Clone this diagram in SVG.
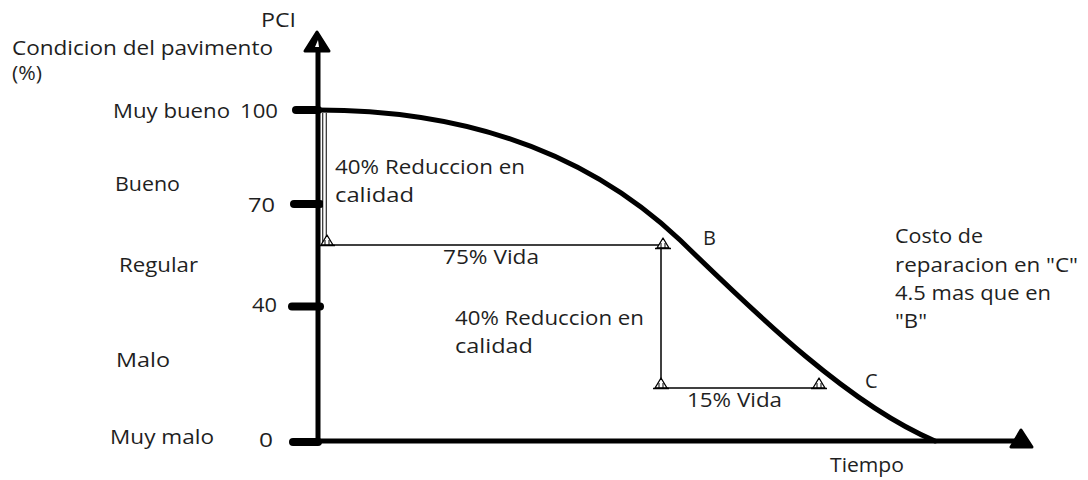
<svg xmlns="http://www.w3.org/2000/svg" xmlns:xlink="http://www.w3.org/1999/xlink" width="1088" height="480" viewBox="0 0 1088 480">
<style>
text{font-family:"Open Sans","Liberation Sans",sans-serif;font-size:20px;fill:#1f1f1f}
.axis{stroke:#000;stroke-width:5;fill:none}
.tick{stroke:#000;stroke-width:8;stroke-linecap:round}
.thin{stroke:#000;stroke-width:1.5;fill:none}
.curve{stroke:#000;stroke-width:5;fill:none;stroke-linecap:round}
.head{fill:#000;stroke:#000;stroke-width:3;stroke-linejoin:round}
</style>
<defs>
<g id="pin">
<polygon points="0,-10 -6,0 6,0" fill="#fff" stroke="#000" stroke-width="1.3" stroke-linejoin="round"/>
<line x1="-8" y1="0.5" x2="8" y2="0.5" stroke="#000" stroke-width="1.5"/>
<line x1="-2" y1="-5" x2="-2" y2="0" stroke="#000" stroke-width="1"/>
<line x1="2" y1="-5" x2="2" y2="0" stroke="#000" stroke-width="1"/>
</g>
</defs>
<rect width="1088" height="480" fill="#fff"/>

<g id="axes">
<line class="axis" x1="318" y1="443" x2="318" y2="48"/>
<polygon class="head" points="317,32 305,51 329,51"/>
<polygon points="318,40 315,47 319,47" fill="#fff"/>
<line class="axis" x1="293" y1="441" x2="1020" y2="441"/>
<polygon class="head" points="1021,430 1011,447 1032,447"/>
<line class="tick" x1="296" y1="110" x2="318" y2="110"/>
<line class="tick" x1="294" y1="204" x2="320" y2="204"/>
<line class="tick" x1="292" y1="306.5" x2="320" y2="306.5"/>
<line class="tick" x1="293" y1="442" x2="318" y2="442"/>
</g>

<g id="curve">
<path class="curve" d="M318,110 C470,110 590,155 680,240 C760,318 850,405 935,441"/>
</g>

<g id="connectors">
<line x1="324.5" y1="113" x2="324.5" y2="243" stroke="#000" stroke-width="4.5"/>
<line x1="324.5" y1="113" x2="324.5" y2="243" stroke="#fff" stroke-width="2.5"/>
<line class="thin" x1="323" y1="245" x2="662" y2="245"/>
<line class="thin" x1="661" y1="245" x2="661" y2="388"/>
<line class="thin" x1="660" y1="388" x2="819" y2="388"/>
<use xlink:href="#pin" href="#pin" x="327" y="245"/>
<use xlink:href="#pin" href="#pin" x="663" y="248"/>
<use xlink:href="#pin" href="#pin" x="661" y="388"/>
<use xlink:href="#pin" href="#pin" x="819" y="388"/>
</g>

<g id="labels">
<text x="261" y="27" textLength="35" lengthAdjust="spacingAndGlyphs">PCI</text>
<text x="12" y="55" textLength="261" lengthAdjust="spacingAndGlyphs">Condicion del pavimento</text>
<text x="12" y="80" textLength="30" lengthAdjust="spacingAndGlyphs">(%)</text>
<text x="113" y="118" textLength="117" lengthAdjust="spacingAndGlyphs">Muy bueno</text>
<text x="240" y="118" textLength="38" lengthAdjust="spacingAndGlyphs">100</text>
<text x="115" y="191" textLength="65" lengthAdjust="spacingAndGlyphs">Bueno</text>
<text x="248" y="212" textLength="27" lengthAdjust="spacingAndGlyphs">70</text>
<text x="119" y="272" textLength="79" lengthAdjust="spacingAndGlyphs">Regular</text>
<text x="252" y="312" textLength="25" lengthAdjust="spacingAndGlyphs">40</text>
<text x="116" y="367" textLength="54" lengthAdjust="spacingAndGlyphs">Malo</text>
<text x="110" y="444" textLength="104" lengthAdjust="spacingAndGlyphs">Muy malo</text>
<text x="259" y="447" textLength="14" lengthAdjust="spacingAndGlyphs">0</text>
</g>

<g id="note-reduccion-1">
<text x="335" y="174" textLength="190" lengthAdjust="spacingAndGlyphs">40% Reduccion en</text>
<text x="335" y="202" textLength="79" lengthAdjust="spacingAndGlyphs">calidad</text>
</g>
<g id="note-vida-75">
<text x="443" y="264" textLength="96" lengthAdjust="spacingAndGlyphs">75% Vida</text>
</g>
<g id="note-reduccion-2">
<text x="455" y="325" textLength="189" lengthAdjust="spacingAndGlyphs">40% Reduccion en</text>
<text x="455" y="353" textLength="78" lengthAdjust="spacingAndGlyphs">calidad</text>
</g>
<g id="note-vida-15">
<text x="687" y="407" textLength="95" lengthAdjust="spacingAndGlyphs">15% Vida</text>
</g>
<g id="point-B"><text x="703" y="245">B</text></g>
<g id="point-C"><text x="865" y="388">C</text></g>
<g id="note-costo">
<text x="895" y="243" textLength="88" lengthAdjust="spacingAndGlyphs">Costo de</text>
<text x="895" y="272" textLength="183" lengthAdjust="spacingAndGlyphs">reparacion en "C"</text>
<text x="895" y="300" textLength="156" lengthAdjust="spacingAndGlyphs">4.5 mas que en</text>
<text x="895" y="328" textLength="32" lengthAdjust="spacingAndGlyphs">"B"</text>
</g>
<g id="axis-x-label"><text x="830" y="472" textLength="74" lengthAdjust="spacingAndGlyphs">Tiempo</text></g>
</svg>
